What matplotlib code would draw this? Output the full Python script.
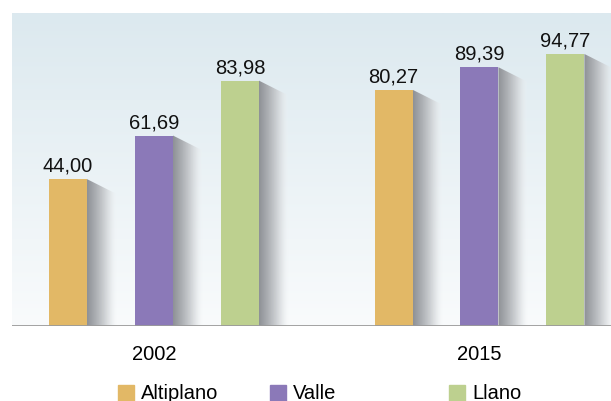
import numpy as np
import matplotlib.pyplot as plt
from matplotlib.patches import Polygon, Rectangle
from matplotlib.colors import to_rgb

years = ['2002', '2015']
regions = ['Altiplano', 'Valle', 'Llano']
values = {
    'Altiplano': [44.00, 80.27],
    'Valle': [61.69, 89.39],
    'Llano': [83.98, 94.77],
}
colors = {'Altiplano': '#e2b866', 'Valle': '#8b79b8', 'Llano': '#bdd08f'}

plt.rcParams['font.family'] = ['Liberation Sans Narrow', 'Liberation Sans', 'DejaVu Sans']

fig = plt.figure(figsize=(6.11, 4.02), dpi=100)
ax = fig.add_axes([12 / 611, 75 / 402, 599 / 611, 313 / 402])

y0, y1 = -15.6, 111.4
ax.set_xlim(-0.436, 1.404)
ax.set_ylim(y0, y1)

# background gradient
grad = np.linspace(0, 1, 256)[:, None]
top_c = np.array(to_rgb('#dce9ef'))
bot_c = np.array(to_rgb('#f9fbfc'))
bg = top_c * (1 - grad[..., None]) + bot_c * grad[..., None]
ax.imshow(bg, extent=(-0.436, 1.404, y0, y1), aspect='auto', zorder=0, origin='upper')

width = 0.1167
offset = 0.264
sh_w = 0.092
sh_drop = 6.1
x = np.arange(len(years))

# shadow gradient (dark gray fading out to the right)
sg = np.linspace(0, 1, 128)[None, :]
shadow = np.zeros((1, 128, 4))
shadow[..., :3] = np.array(to_rgb('#8e9196')) * (1 - sg[..., None]) + np.array(to_rgb('#f3f6f8')) * sg[..., None]
shadow[..., 3] = 1 - sg ** 4

for i, r in enumerate(regions):
    xs = x + (i - 1) * offset
    vals = values[r]
    ax.bar(xs, np.array(vals) - y0, width, bottom=y0, color=colors[r], zorder=3)
    for xc, v in zip(xs, vals):
        xr = xc + width / 2
        poly = Polygon([(xr, y0), (xr, v), (xr + sh_w, v - sh_drop), (xr + sh_w, y0)],
                       closed=True, facecolor='none', edgecolor='none')
        ax.add_patch(poly)
        im = ax.imshow(shadow, extent=(xr, xr + sh_w, y0, v), aspect='auto', zorder=2)
        im.set_clip_path(poly)
        ax.annotate(f'{v:.2f}'.replace('.', ','), (xc, v), xytext=(0, 6),
                    textcoords='offset points', ha='center', va='baseline',
                    fontsize=14.5, color='#111111', zorder=4)

ax.axhline(y0, color='#9a9a9a', lw=2, zorder=5)
ax.set_xticks(x)
ax.set_xticklabels(years, fontsize=14.5)
ax.tick_params(axis='x', length=0, pad=13)
ax.set_yticks([])
for s in ax.spines.values():
    s.set_visible(False)

# legend
leg_x = [118, 270, 449]
for r, lx in zip(regions, leg_x):
    fig.patches.append(Rectangle((lx / 611, 1 - 402 / 402), 16 / 611, 16 / 402,
                                 transform=fig.transFigure, color=colors[r]))
    fig.text((lx + 23) / 611, 1 - 394 / 402, r, fontsize=14.5, va='center', ha='left')

fig.savefig('out.png', dpi=100)
